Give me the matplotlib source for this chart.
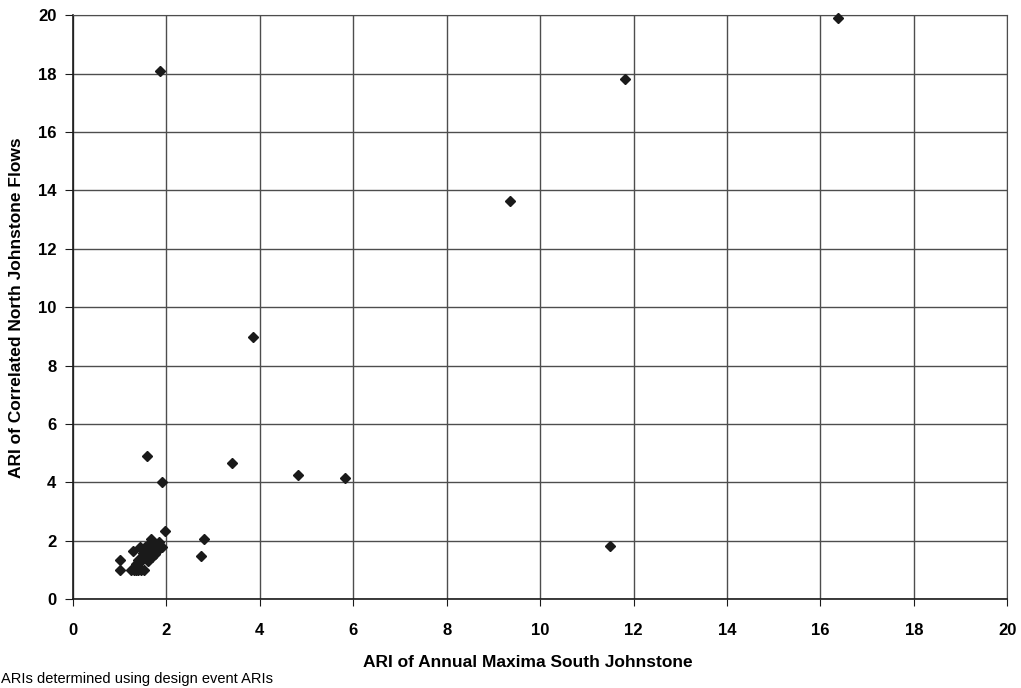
import matplotlib
matplotlib.use("Agg")
import matplotlib.pyplot as plt

plt.rcParams["font.family"] = ["Liberation Sans", "DejaVu Sans"]

# ARI pairs
south_ari = [1.00, 1.00, 1.29, 1.25, 1.30, 1.35, 1.40, 1.45, 1.52, 1.35,
             1.40, 1.45, 1.50, 1.55, 1.50, 1.55, 1.60, 1.60, 1.65, 1.65,
             1.70, 1.70, 1.75, 1.75, 1.80, 1.80, 1.85, 1.90, 1.67, 1.60,
             1.44, 1.50, 1.98, 1.59, 1.90, 2.73, 2.81, 3.40, 3.86, 4.81,
             5.83, 9.35, 11.50, 11.81, 1.86, 16.38]
north_ari = [1.00, 1.34, 1.65, 1.00, 1.00, 1.00, 1.00, 1.00, 1.00, 1.20,
             1.35, 1.30, 1.50, 1.40, 1.70, 1.80, 1.60, 1.30, 1.90, 1.50,
             1.70, 1.45, 1.85, 1.55, 1.90, 1.65, 1.95, 1.79, 2.05, 1.85,
             1.79, 1.60, 2.33, 4.91, 4.00, 1.48, 2.06, 4.65, 8.97, 4.27,
             4.14, 13.65, 1.84, 17.83, 18.08, 19.90]

ticks = list(range(0, 21, 2))

fig = plt.figure(figsize=(10.21, 6.88), dpi=100)
ax = fig.add_axes([0.0715, 0.129, 0.915, 0.849])

ax.plot(south_ari, north_ari, linestyle="none", marker="D", markersize=5.5,
        color="#1a1a1a", clip_on=False, zorder=3)

ax.set_xlim(0, 20)
ax.set_ylim(0, 20)
ax.set_xticks(ticks)
ax.set_yticks(ticks)
ax.grid(True, color="#4d4d4d", linewidth=1.0)
ax.set_axisbelow(True)

for side in ("top", "right"):
    ax.spines[side].set_color("#4d4d4d")
for side in ("left", "bottom"):
    ax.spines[side].set_color("#1a1a1a")
    ax.spines[side].set_linewidth(1.2)

ax.tick_params(axis="x", direction="out", length=5, pad=12,
               labelsize=12, color="#1a1a1a")
ax.tick_params(axis="y", direction="out", length=6, pad=6,
               labelsize=12, color="#1a1a1a")
for lab in ax.get_xticklabels() + ax.get_yticklabels():
    lab.set_fontweight("bold")

ax.set_xlabel("ARI of Annual Maxima South Johnstone", fontsize=12.5,
              fontweight="bold", labelpad=14)
ax.xaxis.set_label_coords(0.487, -0.095)
ax.set_ylabel("ARI of Correlated North Johnstone Flows", fontsize=12.5,
              fontweight="bold", labelpad=10)

fig.text(0.001, 0.003, "ARIs determined using design event ARIs",
         fontsize=10.5, ha="left", va="bottom")

fig.savefig("out.png", dpi=100)
